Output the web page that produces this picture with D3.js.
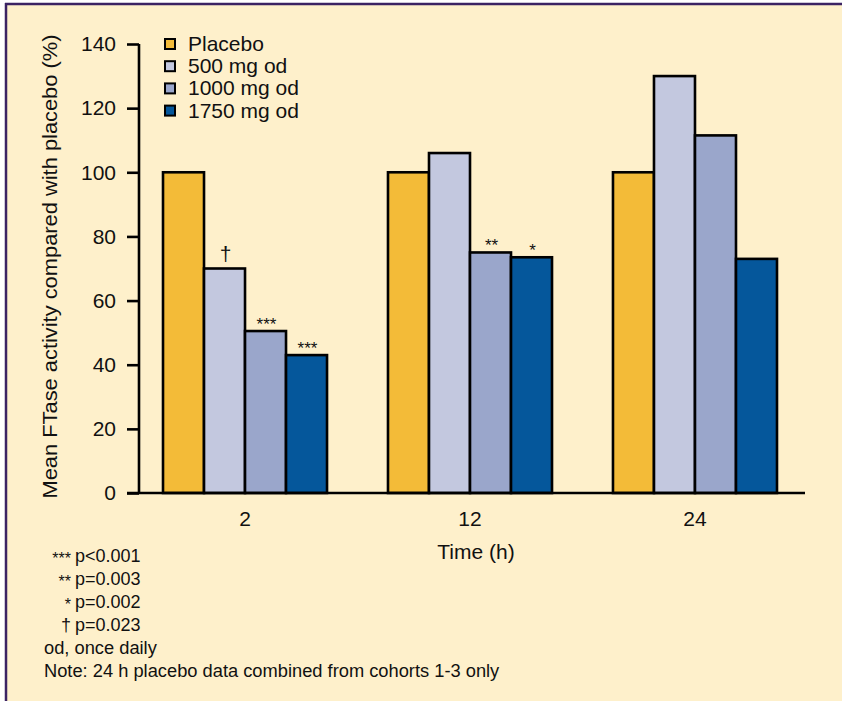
<!DOCTYPE html>
<html>
<head>
<meta charset="utf-8">
<script src="https://cdn.jsdelivr.net/npm/d3@7/dist/d3.min.js"></script>
<style>
  html, body { margin: 0; padding: 0; background: #ffffff; }
  svg { display: block; }
  text { font-family: "Liberation Sans", Arial, Helvetica, sans-serif; fill: #111; }
</style>
</head>
<body>
<svg id="chart" width="842" height="701"></svg>
<script>
// ---- data ----
const timepoints = ["2", "12", "24"];
const seriesNames = ["Placebo", "500 mg od", "1000 mg od", "1750 mg od"];
const placebo = [100, 100, 100];
const mg500 = [70, 106, 130];
const mg1000 = [50.5, 75, 111.5];
const mg1750 = [43, 73.5, 73];
const marksPlacebo = ["", "", ""];
const marks500 = ["†", "", ""];
const marks1000 = ["***", "**", ""];
const marks1750 = ["***", "*", ""];
const yTicks = [0, 20, 40, 60, 80, 100, 120, 140];
const colors = ["#F3BB38", "#C3C8DF", "#9AA6CB", "#05579B"];
const yTitle = "Mean FTase activity compared with placebo (%)";
const xTitle = "Time (h)";
const footSymbols = ["***", "**", "*", "†"];
const footValues = ["p<0.001", "p=0.003", "p=0.002", "p=0.023"];
const footNotes = ["od, once daily", "Note: 24 h placebo data combined from cohorts 1-3 only"];

const seriesValues = [placebo, mg500, mg1000, mg1750];
const seriesMarks = [marksPlacebo, marks500, marks1000, marks1750];

const svg = d3.select("#chart");

// background & frame
svg.append("rect").attr("x", 6).attr("y", 4).attr("width", 836).attr("height", 697).attr("fill", "#FEF0CB");
svg.append("line").attr("x1", 5).attr("x2", 842).attr("y1", 4).attr("y2", 4).attr("stroke", "#3B2363").attr("stroke-width", 2.5);
svg.append("line").attr("x1", 6).attr("x2", 6).attr("y1", 3).attr("y2", 701).attr("stroke", "#3B2363").attr("stroke-width", 2.5);

// scales
const y = d3.scaleLinear().domain([0, 140]).range([493, 44]);
const x0 = d3.scaleBand().domain(timepoints).range([132.5, 807.5]).paddingInner(0.271).paddingOuter(0.1356);
const x1 = d3.scaleBand().domain(seriesNames).range([0, x0.bandwidth()]).padding(0);

const data = [];
timepoints.forEach((t, i) => {
  seriesNames.forEach((s, j) => {
    data.push({ t, s, j, v: seriesValues[j][i], mark: seriesMarks[j][i] });
  });
});

// bars
svg.append("g").selectAll("rect").data(data).join("rect")
  .attr("x", d => x0(d.t) + x1(d.s))
  .attr("y", d => y(d.v))
  .attr("width", x1.bandwidth())
  .attr("height", d => y(0) - y(d.v))
  .attr("fill", d => colors[d.j])
  .attr("stroke", "#000")
  .attr("stroke-width", 2.6);

// significance marks
svg.append("g").selectAll("text").data(data.filter(d => d.mark)).join("text")
  .attr("x", d => x0(d.t) + x1(d.s) + x1.bandwidth() / 2 + 1)
  .attr("y", d => d.mark === "†" ? y(d.v) - 8 : y(d.v) - 1)
  .attr("text-anchor", "middle")
  .attr("font-size", d => d.mark === "†" ? 21 : 17)
  .text(d => d.mark);

// y axis
const yAxis = d3.axisLeft(y).tickValues(yTicks).tickSize(12).tickPadding(11).tickFormat(d3.format("d"));
const gy = svg.append("g").attr("transform", "translate(139,0)").call(yAxis);
gy.select(".domain").attr("stroke", "#000").attr("stroke-width", 2.6).attr("d", "M0,44V493");
gy.selectAll(".tick line").attr("stroke", "#000").attr("stroke-width", 2.6);
gy.selectAll(".tick text").attr("font-size", 21).attr("fill", "#111")
  .attr("font-family", '"Liberation Sans", Arial, sans-serif');

// x axis
const xAxis = d3.axisBottom(x0).tickSize(0).tickPadding(18);
const gx = svg.append("g").attr("transform", "translate(0,493)").call(xAxis);
gx.select(".domain").attr("stroke", "#000").attr("stroke-width", 2.6).attr("d", "M127,0H805");
gx.selectAll(".tick text").attr("font-size", 21).attr("fill", "#111")
  .attr("font-family", '"Liberation Sans", Arial, sans-serif');

// axis titles
svg.append("text")
  .attr("transform", "translate(57,266.5) rotate(-90)")
  .attr("text-anchor", "middle")
  .attr("font-size", 21)
  .attr("textLength", 464)
  .attr("lengthAdjust", "spacingAndGlyphs")
  .text(yTitle);
svg.append("text")
  .attr("x", x0("12") + x0.bandwidth() / 2 + 6)
  .attr("y", 559)
  .attr("text-anchor", "middle")
  .attr("font-size", 21)
  .text(xTitle);

// legend
const legend = svg.append("g").selectAll("g").data(seriesNames).join("g")
  .attr("transform", (d, i) => `translate(165,${44 + i * 22.2})`);
legend.append("rect")
  .attr("x", 0).attr("y", -5).attr("width", 10).attr("height", 10)
  .attr("fill", (d, i) => colors[i]).attr("stroke", "#000").attr("stroke-width", 2);
legend.append("text")
  .attr("x", 23).attr("y", 7)
  .attr("font-size", 21)
  .text(d => d);

// footnotes
const foot = svg.append("g");
footSymbols.forEach((s, i) => {
  foot.append("text").attr("x", 71).attr("y", 562 + i * 23 + (s === "†" ? 0 : 2))
    .attr("text-anchor", "end").attr("font-size", s === "†" ? 18 : 16).text(s);
  foot.append("text").attr("x", 75).attr("y", 562 + i * 23)
    .attr("font-size", 18).text(footValues[i]);
});
footNotes.forEach((n, i) => {
  foot.append("text").attr("x", 44).attr("y", 562 + (4 + i) * 23)
    .attr("font-size", 18.3).text(n);
});
</script>
</body>
</html>
